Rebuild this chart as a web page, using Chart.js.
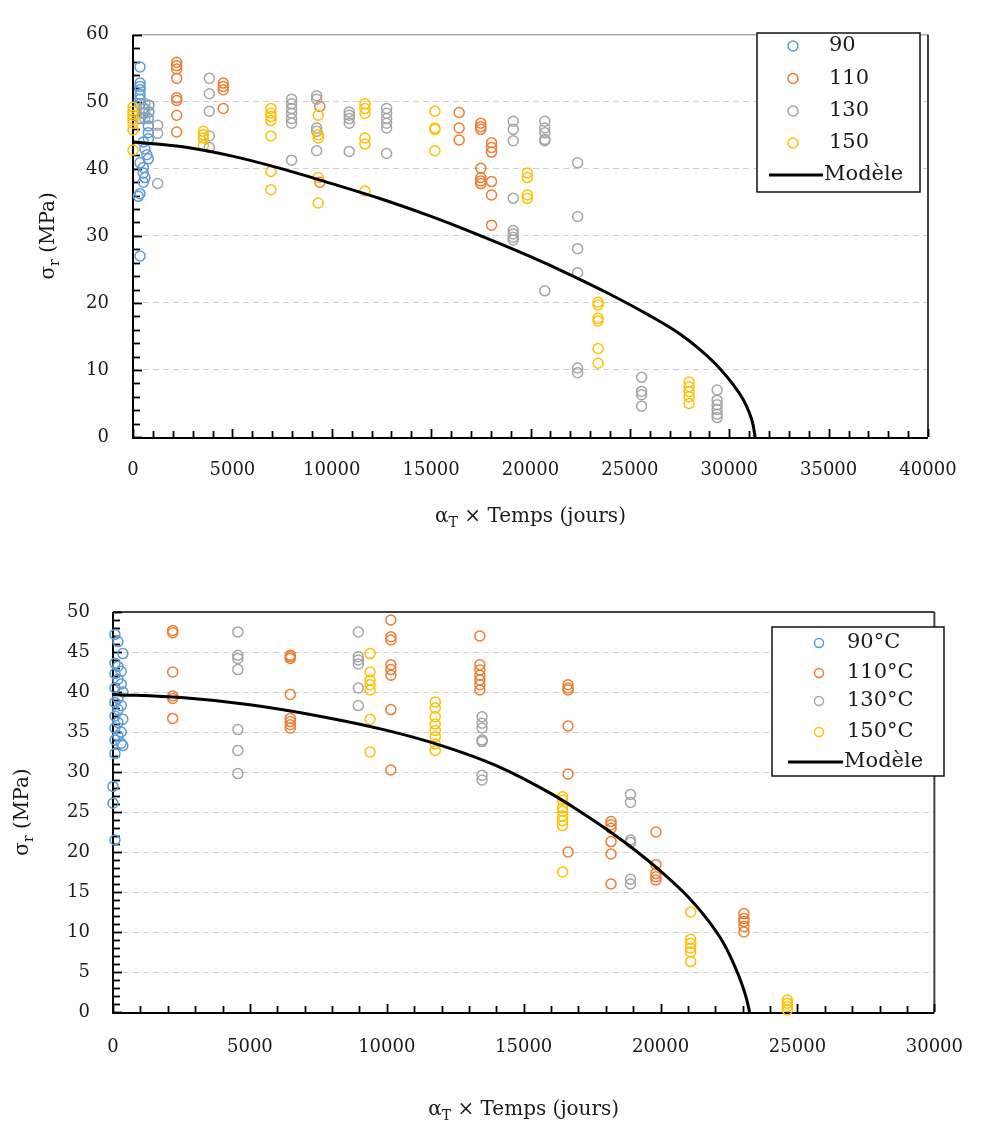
<!DOCTYPE html>
<html><head><meta charset="utf-8">
<script src="https://cdn.jsdelivr.net/npm/chart.js@4.4.1/dist/chart.umd.min.js"></script>
<style>
html,body{margin:0;padding:0;background:#fff;width:988px;height:1128px;overflow:hidden;}
canvas{position:absolute;left:0;}
#c1{top:0;}
#c2{top:560px;}
</style></head><body>
<canvas id="c1" width="988" height="550"></canvas>
<canvas id="c2" width="988" height="568"></canvas>
<script>
// ---------- DATA ----------
// Top chart: [alphaT x time (days), sigma_r (MPa)]
const labelsTop = ['90', '110', '130', '150', 'Modèle'];
const top90 = [[352,55.2],[352,52.8],[352,52.3],[352,51.8],[352,51.1],[352,50.4],[352,49.7],[800,49.5],[520,49.0],[800,48.5],[520,48.3],[352,47.5],[771,47.5],[771,46.4],[771,45.4],[771,44.5],[520,44.0],[600,43.0],[700,42.1],[771,41.5],[352,40.9],[520,40.2],[520,39.4],[600,38.7],[520,38.0],[352,36.3],[268,35.9],[352,27.0]];
const top110 = [[2200,55.9],[2200,55.4],[2200,54.9],[2200,53.5],[2200,50.6],[2200,50.2],[2200,48.0],[2200,45.5],[4540,52.8],[4540,52.3],[4540,51.8],[4540,49.0],[9400,49.3],[9400,38.0],[16410,48.4],[16410,46.1],[16410,44.3],[17500,46.8],[17500,46.3],[17500,45.9],[17500,40.1],[17500,38.7],[17500,38.2],[17500,37.8],[18040,43.9],[18040,43.2],[18040,42.5],[18040,38.1],[18040,36.1],[18040,31.6]];
const top130 = [[600,49.7],[600,49.0],[600,48.3],[600,47.5],[1240,46.5],[1240,45.3],[1240,37.8],[3840,53.5],[3840,51.2],[3840,48.6],[3840,44.9],[3840,43.2],[7980,50.4],[7980,49.7],[7980,49.0],[7980,48.3],[7980,47.5],[7980,46.8],[7980,41.3],[9240,50.9],[9240,50.4],[9240,46.1],[9240,45.6],[9240,42.7],[10880,48.5],[10880,48.0],[10880,47.5],[10880,46.8],[10880,42.6],[12760,49.0],[12760,48.3],[12760,47.5],[12760,46.8],[12760,46.1],[12760,42.3],[19130,47.1],[19130,45.9],[19130,44.2],[19130,35.6],[19130,30.8],[19130,30.3],[19130,29.8],[19130,29.4],[20720,47.1],[20720,46.1],[20720,45.4],[20720,44.4],[20720,44.2],[20720,21.8],[22370,40.9],[22370,32.9],[22370,28.1],[22370,24.5],[22370,10.3],[22370,9.6],[25590,8.9],[25590,6.8],[25590,6.3],[25590,4.6],[29390,7.0],[29390,5.5],[29390,4.8],[29390,4.1],[29390,3.4],[29390,2.9]];
const top150 = [[0,49.2],[0,48.6],[0,48.0],[0,47.4],[0,46.8],[0,45.8],[0,42.8],[3540,45.6],[3540,45.1],[3540,44.6],[3540,43.5],[6940,49.0],[6940,48.3],[6940,47.8],[6940,47.2],[6940,44.9],[6940,39.6],[6940,36.9],[9320,48.0],[9320,45.1],[9320,44.6],[9320,38.7],[9320,34.9],[11670,49.7],[11670,49.0],[11670,48.3],[11670,44.6],[11670,43.7],[11670,36.7],[15190,48.6],[15190,46.1],[15190,45.9],[15190,42.7],[19840,39.4],[19840,38.7],[19840,36.1],[19840,35.6],[23400,20.1],[23400,19.7],[23400,17.7],[23400,17.3],[23400,13.2],[23400,11.0],[27980,8.2],[27980,7.5],[27980,6.8],[27980,6.0],[27980,5.0]];
const topModel = [[0,44.0],[2500,43.3],[5000,41.9],[7500,40.0],[10000,37.8],[12500,35.5],[15000,32.9],[17500,30.0],[20000,26.9],[22000,24.2],[24000,21.3],[26000,18.1],[27500,15.4],[28500,13.1],[29500,10.3],[30200,7.8],[30700,5.6],[31000,3.7],[31200,1.8],[31300,0]];
const ticksTopX = [0, 5000, 10000, 15000, 20000, 25000, 30000, 35000, 40000];
const ticksTopY = [0, 10, 20, 30, 40, 50, 60];

// Bottom chart
const labelsBot = ['90°C', '110°C', '130°C', '150°C', 'Modèle'];
const bot90 = [[71,47.2],[180,46.3],[360,44.8],[71,43.6],[180,43.2],[300,42.6],[71,42.3],[180,41.6],[300,41.0],[71,40.5],[360,40.0],[180,39.2],[71,38.7],[300,38.3],[180,37.8],[71,37.0],[360,36.6],[180,36.2],[71,35.5],[300,35.0],[180,34.5],[71,34.0],[300,33.6],[360,33.3],[71,32.3],[0,28.2],[0,26.1],[71,21.5]];
const bot110 = [[2180,47.7],[2180,47.4],[2180,42.5],[2180,39.5],[2180,39.2],[2180,36.7],[6475,44.6],[6475,44.4],[6475,44.2],[6475,39.7],[6475,36.7],[6475,36.3],[6475,35.9],[6475,35.5],[10150,49.0],[10150,46.9],[10150,46.5],[10150,43.4],[10150,42.8],[10150,42.1],[10150,37.8],[10150,30.25],[13400,47.0],[13400,43.4],[13400,42.75],[13400,42.1],[13400,41.5],[13400,40.9],[13400,40.25],[16620,40.9],[16620,40.5],[16620,40.25],[16620,35.75],[16620,29.75],[16620,20.0],[18190,23.8],[18190,23.4],[18190,22.96],[18190,21.3],[18190,19.75],[18190,16.0],[19830,22.5],[19830,18.4],[19830,17.3],[19830,16.9],[19830,16.5],[23045,12.3],[23045,11.7],[23045,11.3],[23045,10.7],[23045,10.0]];
const bot130 = [[4560,47.5],[4560,44.6],[4560,44.2],[4560,42.8],[4560,35.3],[4560,32.7],[4560,29.8],[8960,47.5],[8960,44.4],[8960,44.0],[8960,43.5],[8960,40.5],[8960,38.3],[13480,36.9],[13480,36.1],[13480,35.5],[13480,34.0],[13480,33.8],[13480,29.6],[13480,29.0],[18900,27.2],[18900,26.2],[18900,21.5],[18900,21.2],[18900,16.6],[18900,16.0]];
const bot150 = [[9390,44.8],[9390,42.5],[9390,41.5],[9390,40.9],[9390,40.25],[9390,36.6],[9390,32.5],[11770,38.75],[11770,38.0],[11770,36.9],[11770,36.0],[11770,35.2],[11770,34.4],[11770,33.5],[11770,32.7],[16420,26.9],[16420,26.5],[16420,25.5],[16420,25.1],[16420,24.5],[16420,23.9],[16420,23.3],[16420,17.5],[21100,12.5],[21100,9.1],[21100,8.6],[21100,8.0],[21100,7.5],[21100,6.3],[24630,1.5],[24630,1.1],[24630,0.7],[24630,0.25]];
const botModel = [[0,39.7],[2500,39.3],[5000,38.4],[7500,37.0],[10000,35.2],[12000,33.3],[14000,30.8],[16000,27.3],[17000,25.2],[18000,22.9],[19000,20.4],[20000,17.6],[21000,14.4],[21700,11.6],[22300,8.6],[22700,5.8],[23000,3.2],[23150,1.5],[23250,0]];
const ticksBotX = [0, 5000, 10000, 15000, 20000, 25000, 30000];
const ticksBotY = [0, 5, 10, 15, 20, 25, 30, 35, 40, 45, 50];

// ---------- STYLE ----------
const SERIF = '"DejaVu Serif", "Liberation Serif", serif';
const seriesColors = ['#5B9BD5', '#ED7D31', '#A5A5A5', '#FFC000'];

function pts(a){ return a.map(p => ({x: p[0], y: p[1]})); }

function drawRich(ctx, parts, cx, cy, size) {
  let w = 0;
  const fonts = parts.map(p => (p.sub ? Math.round(size*0.68) : size) + 'px ' + SERIF);
  parts.forEach((p, i) => { ctx.font = fonts[i]; w += ctx.measureText(p.t).width; });
  let x = cx - w/2;
  ctx.textAlign = 'left'; ctx.textBaseline = 'middle'; ctx.fillStyle = '#1a1a1a';
  parts.forEach((p, i) => {
    ctx.font = fonts[i];
    ctx.fillText(p.t, x, cy + (p.sub ? size*0.3 : 0));
    x += ctx.measureText(p.t).width;
  });
}

function build(canvasId, S) {
  const H = document.getElementById(canvasId).height;
  const datasets = [];
  S.series.forEach((arr, i) => datasets.push({
    type: 'scatter', label: S.labels[i], data: pts(arr), order: 4 - i, clip: false,
    borderColor: seriesColors[i], backgroundColor: 'rgba(0,0,0,0)',
    pointRadius: S.r, pointBorderWidth: 1.5, pointStyle: 'circle', showLine: false
  }));
  datasets.push({
    type: 'scatter', label: S.labels[4], data: pts(S.model), order: 0, clip: false,
    showLine: true, borderColor: '#000', borderWidth: 3, pointRadius: 0,
    cubicInterpolationMode: 'monotone', fill: false
  });

  const frame = {
    id: 'frame' + canvasId,
    beforeDatasetsDraw(chart) {
      const ctx = chart.ctx, a = chart.chartArea, xs = chart.scales.x, ys = chart.scales.y;
      ctx.save();
      // top and right border
      ctx.lineWidth = S.topW; ctx.strokeStyle = S.topColor;
      ctx.beginPath(); ctx.moveTo(a.left, a.top); ctx.lineTo(a.right, a.top); ctx.stroke();
      ctx.lineWidth = 2; ctx.strokeStyle = S.rightColor;
      ctx.beginPath(); ctx.moveTo(a.right, a.top); ctx.lineTo(a.right, a.bottom); ctx.stroke();
      // axes
      ctx.strokeStyle = '#000'; ctx.lineWidth = 2;
      ctx.beginPath(); ctx.moveTo(a.left, a.top); ctx.lineTo(a.left, a.bottom + 1); ctx.lineTo(a.right, a.bottom + 1); ctx.stroke();
      // minor / major ticks (inside)
      ctx.lineWidth = 1.8;
      for (let v = xs.min; v <= xs.max; v += S.xMinor) {
        const px = Math.round(xs.getPixelForValue(v)) + 0.5;
        const len = (v % S.xStep === 0) ? 8 : 6;
        ctx.beginPath(); ctx.moveTo(px, a.bottom); ctx.lineTo(px, a.bottom - len); ctx.stroke();
      }
      for (let v = ys.min; v <= ys.max + 1e-9; v += S.yMinor) {
        const py = Math.round(ys.getPixelForValue(v)) + 0.5;
        const len = (Math.abs(v % S.yStep) < 1e-9) ? 9 : 7;
        ctx.beginPath(); ctx.moveTo(a.left, py); ctx.lineTo(a.left + len, py); ctx.stroke();
      }
      ctx.restore();
    },
    afterDraw(chart) {
      const ctx = chart.ctx, a = chart.chartArea;
      ctx.save();
      // axis titles
      drawRich(ctx, [{t:'α'},{t:'T',sub:true},{t:' × Temps (jours)'}], (a.left + a.right)/2, S.xTitleY, S.titleSize);
      ctx.save();
      ctx.translate(S.yTitleX, (a.top + a.bottom)/2);
      ctx.rotate(-Math.PI/2);
      drawRich(ctx, [{t:'σ'},{t:'r',sub:true},{t:' (MPa)'}], 0, 0, S.titleSize);
      ctx.restore();
      // legend
      const L = S.legend;
      ctx.fillStyle = '#fff';
      ctx.fillRect(L.box[0], L.box[1], L.box[2]-L.box[0], L.box[3]-L.box[1]);
      ctx.strokeStyle = '#111'; ctx.lineWidth = 1.5;
      ctx.strokeRect(L.box[0], L.box[1], L.box[2]-L.box[0], L.box[3]-L.box[1]);
      ctx.font = L.size + 'px ' + SERIF; ctx.textAlign = 'left'; ctx.textBaseline = 'middle';
      chart.data.datasets.forEach((ds, i) => {
        const y = L.rows[i];
        if (i < 4) {
          ctx.strokeStyle = ds.borderColor; ctx.lineWidth = 1.5;
          ctx.beginPath(); ctx.arc(L.mx, y, L.mr, 0, Math.PI*2); ctx.stroke();
        } else {
          ctx.strokeStyle = '#000'; ctx.lineWidth = 3;
          ctx.beginPath(); ctx.moveTo(L.l1, y); ctx.lineTo(L.l2, y); ctx.stroke();
        }
        ctx.fillStyle = '#1a1a1a';
        ctx.fillText(ds.label, i < 4 ? L.tx : L.l2 + 1, y);
      });
      ctx.restore();
    }
  };

  return new Chart(document.getElementById(canvasId), {
    type: 'scatter',
    data: { datasets },
    options: {
      responsive: false, animation: false, devicePixelRatio: 1,
      layout: { autoPadding: false, padding: { left: 0, top: S.area.top, right: 988 - S.area.right, bottom: 0 } },
      plugins: { legend: { display: false }, tooltip: { enabled: false }, title: { display: false } },
      scales: {
        x: {
          type: 'linear', min: 0, max: S.xMax,
          afterFit: s => { s.height = H - S.area.bottom; },
          afterBuildTicks: s => { s.ticks = S.xTicks.map(v => ({value: v})); },
          grid: { display: false, drawTicks: false },
          border: { display: false },
          ticks: { font: { family: SERIF, size: S.tickSize }, color: '#1a1a1a', padding: S.xPad, maxRotation: 0, autoSkip: false, callback: v => String(v) }
        },
        y: {
          type: 'linear', min: 0, max: S.yMax,
          afterFit: s => { s.width = S.area.left; },
          afterBuildTicks: s => { s.ticks = S.yTicks.map(v => ({value: v})); },
          grid: { color: c => (c.tick && (c.tick.value === 0 || c.tick.value === S.yMax)) ? 'rgba(0,0,0,0)' : '#d0d0d0', lineWidth: 1, drawTicks: false },
          border: { display: false, dash: [6, 4] },
          ticks: { font: { family: SERIF, size: S.tickSize }, color: '#1a1a1a', padding: S.yPad, autoSkip: false, callback: v => String(v) }
        }
      }
    },
    plugins: [frame]
  });
}

build('c1', {
  labels: labelsTop, series: [top90, top110, top130, top150], model: topModel,
  area: { left: 133, right: 928, top: 18, bottom: 437 },
  xMax: 40000, xStep: 5000, xMinor: 1000, yMax: 60, yStep: 10, yMinor: 2,
  xTicks: ticksTopX, yTicks: ticksTopY,
  r: 5, tickSize: 18, titleSize: 20, xPad: 23, yPad: 24,
  xTitleY: 517, yTitleX: 49,
  topColor: '#b0b0b0', topW: 1.5, rightColor: '#404040',
  legend: { box: [757, 33, 920, 192], rows: [46, 78.5, 111, 143, 175], mx: 793, mr: 5, tx: 829, l1: 769, l2: 823, size: 21 }
});

build('c2', {
  labels: labelsBot, series: [bot90, bot110, bot130, bot150], model: botModel,
  area: { left: 113, right: 953, top: 52, bottom: 452 },
  xMax: 30000, xStep: 5000, xMinor: 1000, yMax: 50, yStep: 5, yMinor: 1,
  xTicks: ticksBotX, yTicks: ticksBotY,
  r: 5, tickSize: 18, titleSize: 20, xPad: 25, yPad: 23,
  xTitleY: 550, yTitleX: 23,
  topColor: '#404040', topW: 2, rightColor: '#404040',
  legend: { box: [772, 67, 944, 216], rows: [83, 113, 141, 172, 202], mx: 819, mr: 4.5, tx: 847, l1: 788, l2: 843, size: 21 }
});
</script>
</body></html>
